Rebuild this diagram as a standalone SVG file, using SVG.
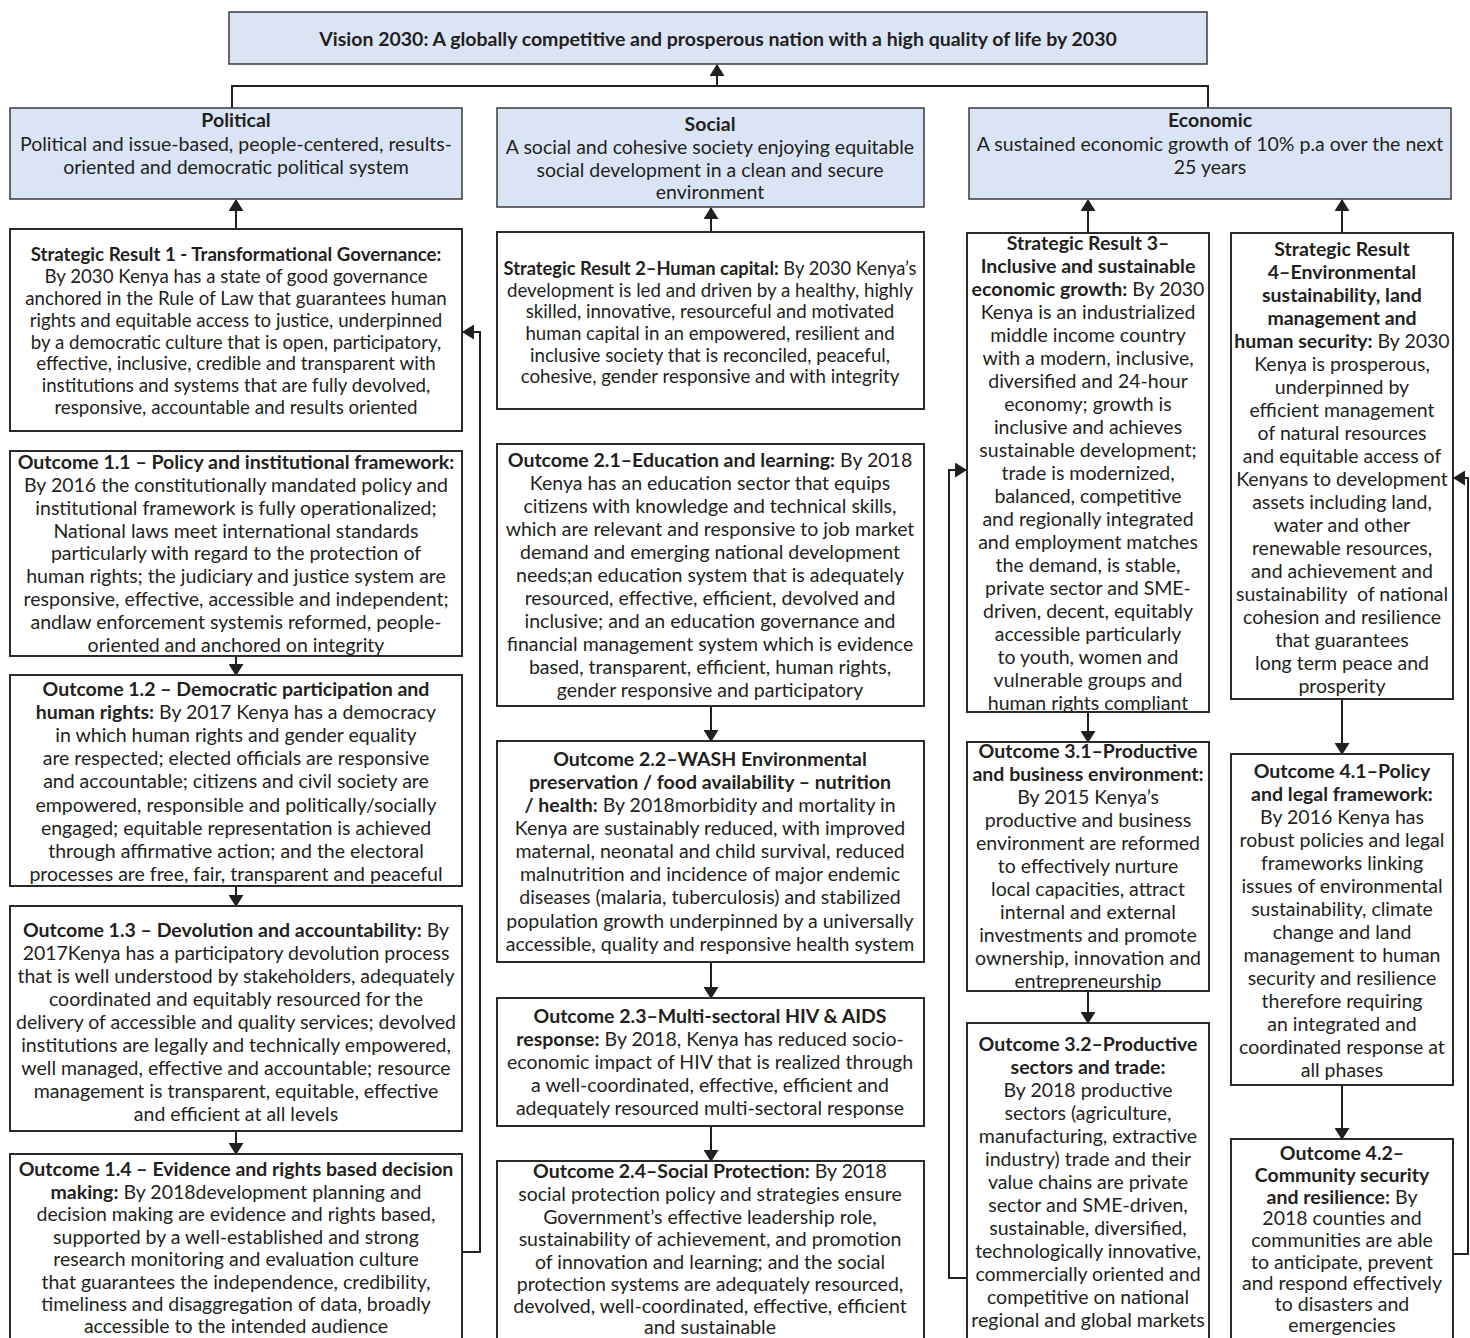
<svg xmlns="http://www.w3.org/2000/svg" width="1470" height="1338" viewBox="0 0 1470 1338">
<defs>
<style>
.hdr{fill:#dbe4f5;stroke:#3a3a3a;stroke-width:1.5}
.box{fill:#ffffff;stroke:#2a2a2a;stroke-width:2}
.t{font-family:Lato,"Liberation Sans",Arial,sans-serif;font-size:19.5px;fill:#231f20;text-anchor:middle}
.s{font-size:18.7px}
.b{font-weight:bold}
.c{fill:none;stroke:#231f20;stroke-width:2}
.ca{fill:none;stroke:#231f20;stroke-width:2;marker-end:url(#ah)}
</style>
<marker id="ah" markerUnits="userSpaceOnUse" markerWidth="12" markerHeight="15" refX="11" refY="7.5" orient="auto">
<path d="M0,0 L12,7.5 L0,15 z" fill="#231f20"/>
</marker>
</defs>
<rect width="1470" height="1338" fill="#ffffff"/>

<g id="connectors">
<path class="c" d="M232,108 V86 H1208 V107"/>
<path class="ca" d="M717,86 V65"/>
<path class="ca" d="M236,229 V200"/>
<path class="ca" d="M711,232 V208"/>
<path class="ca" d="M1088,233 V200"/>
<path class="ca" d="M1342,233 V200"/>
<path class="ca" d="M236,656 V675"/>
<path class="ca" d="M236,886 V906"/>
<path class="ca" d="M236,1131 V1154"/>
<path class="ca" d="M462,1252 H480 V332 H463"/>
<path class="ca" d="M711,706 V741"/>
<path class="ca" d="M711,962 V998"/>
<path class="ca" d="M711,1126 V1161"/>
<path class="ca" d="M1088,712 V742"/>
<path class="ca" d="M1088,991 V1023"/>
<path class="ca" d="M967,1278 H949 V470 H966"/>
<path class="ca" d="M1342,699 V754"/>
<path class="ca" d="M1342,1085 V1139"/>
<path class="ca" d="M1453,1254 H1468 V478 H1454"/>
</g>

<g id="vision">
<rect class="hdr" x="229" y="12" width="978" height="52"/>
<text class="t b" x="718" y="46">Vision 2030: A globally competitive and prosperous nation with a high quality of life by 2030</text>
</g>

<g id="political">
<rect class="hdr" x="10" y="108" width="452" height="91"/>
<text class="t b" x="236" y="127">Political</text>
<text class="t" x="236" y="151">Political and issue-based, people-centered, results-</text>
<text class="t" x="236" y="174">oriented and democratic political system</text>
</g>

<g id="social">
<rect class="hdr" x="497" y="108" width="427" height="99"/>
<text class="t b" x="710" y="131">Social</text>
<text class="t" x="710" y="154">A social and cohesive society enjoying equitable</text>
<text class="t" x="710" y="177">social development in a clean and secure</text>
<text class="t" x="710" y="199">environment</text>
</g>

<g id="economic">
<rect class="hdr" x="969" y="108" width="482" height="91"/>
<text class="t b" x="1210" y="127">Economic</text>
<text class="t" x="1210" y="151">A sustained economic growth of 10% p.a over the next</text>
<text class="t" x="1210" y="174">25 years</text>
</g>

<g id="sr1">
<rect class="box" x="10" y="229" width="452" height="202"/>
<text class="t s b" x="236" y="261">Strategic Result 1 - Transformational Governance:</text>
<text class="t s" x="236" y="283">By 2030 Kenya has a state of good governance</text>
<text class="t s" x="236" y="305">anchored in the Rule of Law that guarantees human</text>
<text class="t s" x="236" y="327">rights and equitable access to justice, underpinned</text>
<text class="t s" x="236" y="349">by a democratic culture that is open, participatory,</text>
<text class="t s" x="236" y="370">effective, inclusive, credible and transparent with</text>
<text class="t s" x="236" y="392">institutions and systems that are fully devolved,</text>
<text class="t s" x="236" y="414">responsive, accountable and results oriented</text>
</g>

<g id="o11">
<rect class="box" x="10" y="451" width="452" height="205"/>
<text class="t b" x="236" y="469">Outcome 1.1 – Policy and institutional framework:</text>
<text class="t" x="236" y="492">By 2016 the constitutionally mandated policy and</text>
<text class="t" x="236" y="515">institutional framework is fully operationalized;</text>
<text class="t" x="236" y="538">National laws meet international standards</text>
<text class="t" x="236" y="560">particularly with regard to the protection of</text>
<text class="t" x="236" y="583">human rights; the judiciary and justice system are</text>
<text class="t" x="236" y="606">responsive, effective, accessible and independent;</text>
<text class="t" x="236" y="629">andlaw enforcement systemis reformed, people-</text>
<text class="t" x="236" y="652">oriented and anchored on integrity</text>
</g>

<g id="o12">
<rect class="box" x="10" y="675" width="452" height="211"/>
<text class="t b" x="236" y="696">Outcome 1.2 – Democratic participation and</text>
<text class="t" x="236" y="719"><tspan class="b">human rights:</tspan> By 2017 Kenya has a democracy</text>
<text class="t" x="236" y="742">in which human rights and gender equality</text>
<text class="t" x="236" y="765">are respected; elected officials are responsive</text>
<text class="t" x="236" y="788">and accountable; citizens and civil society are</text>
<text class="t" x="236" y="812">empowered, responsible and politically/socially</text>
<text class="t" x="236" y="835">engaged; equitable representation is achieved</text>
<text class="t" x="236" y="858">through affirmative action; and the electoral</text>
<text class="t" x="236" y="881">processes are free, fair, transparent and peaceful</text>
</g>

<g id="o13">
<rect class="box" x="10" y="906" width="452" height="225"/>
<text class="t" x="236" y="937"><tspan class="b">Outcome 1.3 – Devolution and accountability:</tspan> By</text>
<text class="t" x="236" y="960">2017Kenya has a participatory devolution process</text>
<text class="t" x="236" y="983">that is well understood by stakeholders, adequately</text>
<text class="t" x="236" y="1006">coordinated and equitably resourced for the</text>
<text class="t" x="236" y="1029">delivery of accessible and quality services; devolved</text>
<text class="t" x="236" y="1052">institutions are legally and technically empowered,</text>
<text class="t" x="236" y="1075">well managed, effective and accountable; resource</text>
<text class="t" x="236" y="1098">management is transparent, equitable, effective</text>
<text class="t" x="236" y="1121">and efficient at all levels</text>
</g>

<g id="o14">
<rect class="box" x="10" y="1154" width="452" height="200"/>
<text class="t b" x="236" y="1176">Outcome 1.4 – Evidence and rights based decision</text>
<text class="t" x="236" y="1199"><tspan class="b">making:</tspan> By 2018development planning and</text>
<text class="t" x="236" y="1221">decision making are evidence and rights based,</text>
<text class="t" x="236" y="1244">supported by a well-established and strong</text>
<text class="t" x="236" y="1266">research monitoring and evaluation culture</text>
<text class="t" x="236" y="1289">that guarantees the independence, credibility,</text>
<text class="t" x="236" y="1311">timeliness and disaggregation of data, broadly</text>
<text class="t" x="236" y="1333">accessible to the intended audience</text>
</g>

<g id="sr2">
<rect class="box" x="497" y="232" width="427" height="177"/>
<text class="t s" x="710" y="275" textLength="413" lengthAdjust="spacingAndGlyphs"><tspan class="b">Strategic Result 2–Human capital:</tspan> By 2030 Kenya’s</text>
<text class="t s" x="710" y="297">development is led and driven by a healthy, highly</text>
<text class="t s" x="710" y="318">skilled, innovative, resourceful and motivated</text>
<text class="t s" x="710" y="340">human capital in an empowered, resilient and</text>
<text class="t s" x="710" y="362">inclusive society that is reconciled, peaceful,</text>
<text class="t s" x="710" y="383">cohesive, gender responsive and with integrity</text>
</g>

<g id="o21">
<rect class="box" x="497" y="444" width="427" height="262"/>
<text class="t" x="710" y="467"><tspan class="b">Outcome 2.1–Education and learning:</tspan> By 2018</text>
<text class="t" x="710" y="490">Kenya has an education sector that equips</text>
<text class="t" x="710" y="513">citizens with knowledge and technical skills,</text>
<text class="t" x="710" y="536">which are relevant and responsive to job market</text>
<text class="t" x="710" y="559">demand and emerging national development</text>
<text class="t" x="710" y="582">needs;an education system that is adequately</text>
<text class="t" x="710" y="605">resourced, effective, efficient, devolved and</text>
<text class="t" x="710" y="628">inclusive; and an education governance and</text>
<text class="t" x="710" y="651">financial management system which is evidence</text>
<text class="t" x="710" y="674">based, transparent, efficient, human rights,</text>
<text class="t" x="710" y="697">gender responsive and participatory</text>
</g>

<g id="o22">
<rect class="box" x="497" y="741" width="427" height="221"/>
<text class="t b" x="710" y="766">Outcome 2.2–WASH Environmental</text>
<text class="t b" x="710" y="789">preservation / food availability – nutrition</text>
<text class="t" x="710" y="812"><tspan class="b">/ health:</tspan> By 2018morbidity and mortality in</text>
<text class="t" x="710" y="835">Kenya are sustainably reduced, with improved</text>
<text class="t" x="710" y="858">maternal, neonatal and child survival, reduced</text>
<text class="t" x="710" y="881">malnutrition and incidence of major endemic</text>
<text class="t" x="710" y="904">diseases (malaria, tuberculosis) and stabilized</text>
<text class="t" x="710" y="928">population growth underpinned by a universally</text>
<text class="t" x="710" y="951">accessible, quality and responsive health system</text>
</g>

<g id="o23">
<rect class="box" x="497" y="998" width="427" height="128"/>
<text class="t b" x="710" y="1023">Outcome 2.3–Multi-sectoral HIV &amp; AIDS</text>
<text class="t" x="710" y="1046"><tspan class="b">response:</tspan> By 2018, Kenya has reduced socio-</text>
<text class="t" x="710" y="1069">economic impact of HIV that is realized through</text>
<text class="t" x="710" y="1092">a well-coordinated, effective, efficient and</text>
<text class="t" x="710" y="1115">adequately resourced multi-sectoral response</text>
</g>

<g id="o24">
<rect class="box" x="497" y="1161" width="427" height="200"/>
<text class="t" x="710" y="1178"><tspan class="b">Outcome 2.4–Social Protection:</tspan> By 2018</text>
<text class="t" x="710" y="1201">social protection policy and strategies ensure</text>
<text class="t" x="710" y="1224">Government’s effective leadership role,</text>
<text class="t" x="710" y="1246">sustainability of achievement, and promotion</text>
<text class="t" x="710" y="1269">of innovation and learning; and the social</text>
<text class="t" x="710" y="1291">protection systems are adequately resourced,</text>
<text class="t" x="710" y="1313">devolved, well-coordinated, effective, efficient</text>
<text class="t" x="710" y="1334">and sustainable</text>
</g>

<g id="sr3">
<rect class="box" x="967" y="233" width="242" height="479"/>
<text class="t b" x="1088" y="250">Strategic Result 3–</text>
<text class="t b" x="1088" y="273">Inclusive and sustainable</text>
<text class="t" x="1088" y="296"><tspan class="b">economic growth:</tspan> By 2030</text>
<text class="t" x="1088" y="319">Kenya is an industrialized</text>
<text class="t" x="1088" y="342">middle income country</text>
<text class="t" x="1088" y="365">with a modern, inclusive,</text>
<text class="t" x="1088" y="388">diversified and 24-hour</text>
<text class="t" x="1088" y="411">economy; growth is</text>
<text class="t" x="1088" y="434">inclusive and achieves</text>
<text class="t" x="1088" y="457">sustainable development;</text>
<text class="t" x="1088" y="480">trade is modernized,</text>
<text class="t" x="1088" y="503">balanced, competitive</text>
<text class="t" x="1088" y="526">and regionally integrated</text>
<text class="t" x="1088" y="549">and employment matches</text>
<text class="t" x="1088" y="572">the demand, is stable,</text>
<text class="t" x="1088" y="595">private sector and SME-</text>
<text class="t" x="1088" y="618">driven, decent, equitably</text>
<text class="t" x="1088" y="641">accessible particularly</text>
<text class="t" x="1088" y="664">to youth, women and</text>
<text class="t" x="1088" y="687">vulnerable groups and</text>
<text class="t" x="1088" y="710">human rights compliant</text>
</g>

<g id="sr4">
<rect class="box" x="1231" y="233" width="222" height="466"/>
<text class="t b" x="1342" y="256">Strategic Result</text>
<text class="t b" x="1342" y="279">4–Environmental</text>
<text class="t b" x="1342" y="302">sustainability, land</text>
<text class="t b" x="1342" y="325">management and</text>
<text class="t" x="1342" y="348"><tspan class="b">human security:</tspan> By 2030</text>
<text class="t" x="1342" y="371">Kenya is prosperous,</text>
<text class="t" x="1342" y="394">underpinned by</text>
<text class="t" x="1342" y="417">efficient management</text>
<text class="t" x="1342" y="440">of natural resources</text>
<text class="t" x="1342" y="463">and equitable access of</text>
<text class="t" x="1342" y="486">Kenyans to development</text>
<text class="t" x="1342" y="509">assets including land,</text>
<text class="t" x="1342" y="532">water and other</text>
<text class="t" x="1342" y="555">renewable resources,</text>
<text class="t" x="1342" y="578">and achievement and</text>
<text class="t" x="1342" y="601">sustainability&#160; of national</text>
<text class="t" x="1342" y="624">cohesion and resilience</text>
<text class="t" x="1342" y="647">that guarantees</text>
<text class="t" x="1342" y="670">long term peace and</text>
<text class="t" x="1342" y="693">prosperity</text>
</g>

<g id="o31">
<rect class="box" x="967" y="742" width="242" height="249"/>
<text class="t b" x="1088" y="758">Outcome 3.1–Productive</text>
<text class="t b" x="1088" y="781">and business environment:</text>
<text class="t" x="1088" y="804">By 2015 Kenya’s</text>
<text class="t" x="1088" y="827">productive and business</text>
<text class="t" x="1088" y="850">environment are reformed</text>
<text class="t" x="1088" y="873">to effectively nurture</text>
<text class="t" x="1088" y="896">local capacities, attract</text>
<text class="t" x="1088" y="919">internal and external</text>
<text class="t" x="1088" y="942">investments and promote</text>
<text class="t" x="1088" y="965">ownership, innovation and</text>
<text class="t" x="1088" y="988">entrepreneurship</text>
</g>

<g id="o32">
<rect class="box" x="967" y="1023" width="242" height="330"/>
<text class="t b" x="1088" y="1051">Outcome 3.2–Productive</text>
<text class="t b" x="1088" y="1074">sectors and trade:</text>
<text class="t" x="1088" y="1097">By 2018 productive</text>
<text class="t" x="1088" y="1120">sectors (agriculture,</text>
<text class="t" x="1088" y="1143">manufacturing, extractive</text>
<text class="t" x="1088" y="1166">industry) trade and their</text>
<text class="t" x="1088" y="1189">value chains are private</text>
<text class="t" x="1088" y="1212">sector and SME-driven,</text>
<text class="t" x="1088" y="1235">sustainable, diversified,</text>
<text class="t" x="1088" y="1258">technologically innovative,</text>
<text class="t" x="1088" y="1281">commercially oriented and</text>
<text class="t" x="1088" y="1304">competitive on national</text>
<text class="t" x="1088" y="1327">regional and global markets</text>
</g>

<g id="o41">
<rect class="box" x="1231" y="754" width="222" height="331"/>
<text class="t b" x="1342" y="778">Outcome 4.1–Policy</text>
<text class="t b" x="1342" y="801">and legal framework:</text>
<text class="t" x="1342" y="824">By 2016 Kenya has</text>
<text class="t" x="1342" y="847">robust policies and legal</text>
<text class="t" x="1342" y="870">frameworks linking</text>
<text class="t" x="1342" y="893">issues of environmental</text>
<text class="t" x="1342" y="916">sustainability, climate</text>
<text class="t" x="1342" y="939">change and land</text>
<text class="t" x="1342" y="962">management to human</text>
<text class="t" x="1342" y="985">security and resilience</text>
<text class="t" x="1342" y="1008">therefore requiring</text>
<text class="t" x="1342" y="1031">an integrated and</text>
<text class="t" x="1342" y="1054">coordinated response at</text>
<text class="t" x="1342" y="1077">all phases</text>
</g>

<g id="o42">
<rect class="box" x="1231" y="1139" width="222" height="215"/>
<text class="t b" x="1342" y="1160">Outcome 4.2–</text>
<text class="t b" x="1342" y="1182">Community security</text>
<text class="t" x="1342" y="1204"><tspan class="b">and resilience:</tspan> By</text>
<text class="t" x="1342" y="1225">2018 counties and</text>
<text class="t" x="1342" y="1247">communities are able</text>
<text class="t" x="1342" y="1269">to anticipate, prevent</text>
<text class="t" x="1342" y="1290">and respond effectively</text>
<text class="t" x="1342" y="1311">to disasters and</text>
<text class="t" x="1342" y="1332">emergencies</text>
</g>
</svg>
